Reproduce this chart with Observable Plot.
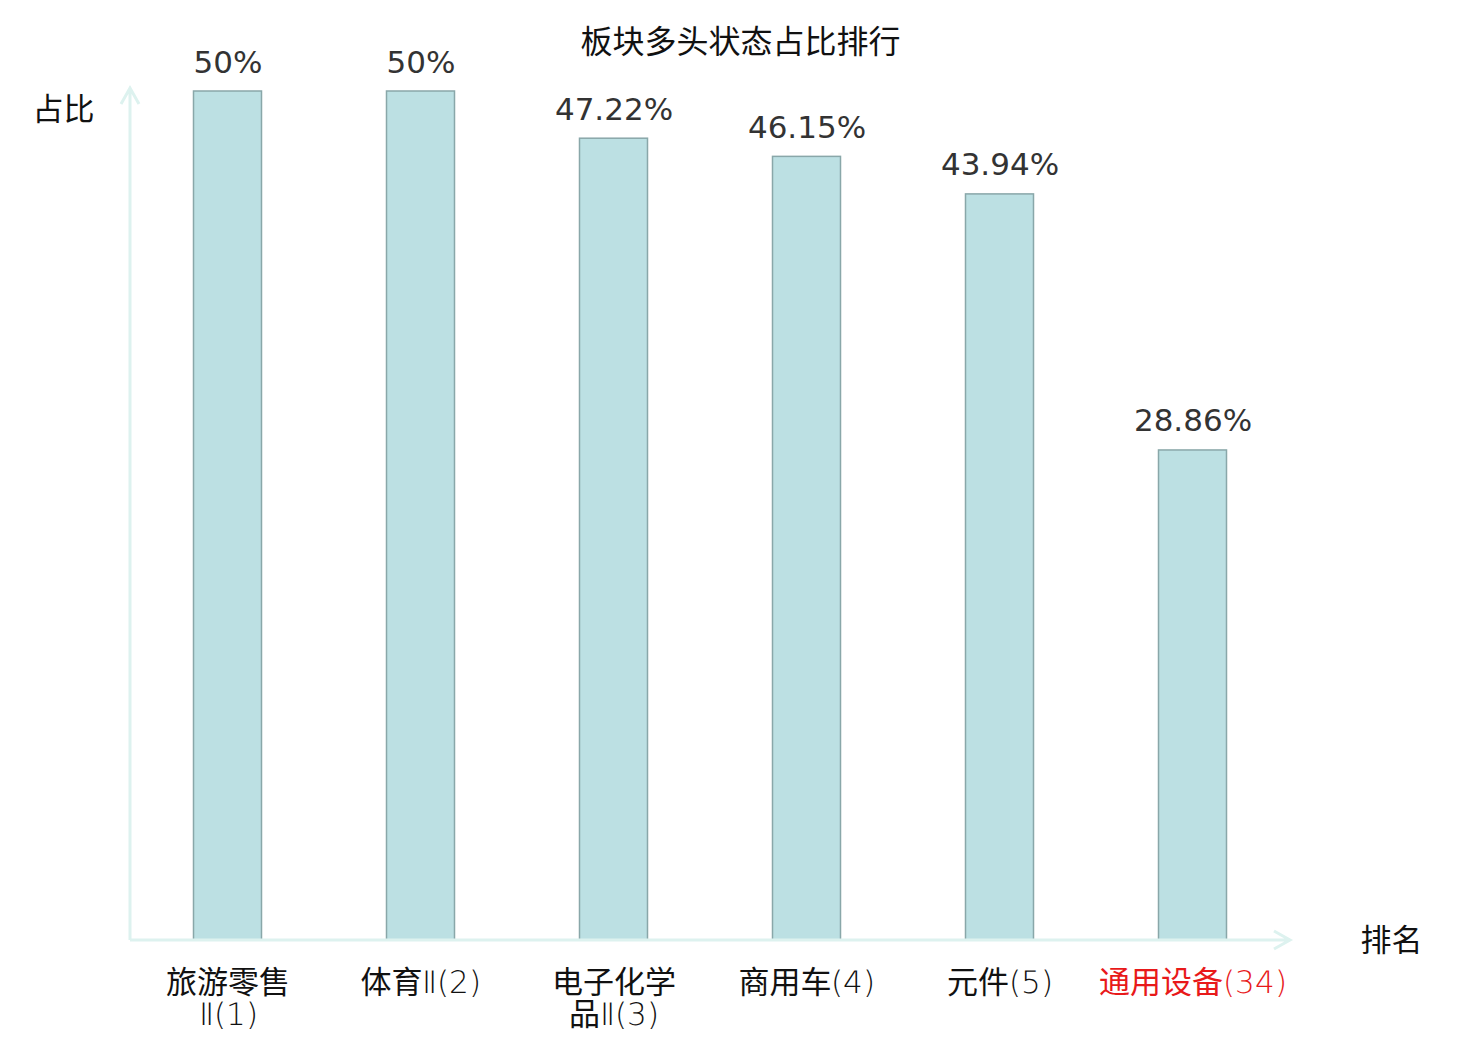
<!DOCTYPE html>
<html>
<head>
<meta charset="utf-8">
<script src="https://cdn.jsdelivr.net/npm/d3@7"></script>
<script src="https://cdn.jsdelivr.net/npm/@observablehq/plot@0.6"></script>
<style>
  html, body { margin: 0; padding: 0; background: #fff; }
  #chart svg { display: block; }
  @font-face {
    font-family: "TickLatin";
    src: local("DejaVu Sans ExtraLight"), local("DejaVuSans-ExtraLight");
    unicode-range: U+0000-00FF, U+2160-2188;
  }
</style>
</head>
<body>
<div id="chart"></div>
<script>
const categories = ["旅游零售\nⅡ(1)", "体育Ⅱ(2)", "电子化学\n品Ⅱ(3)", "商用车(4)", "元件(5)", "通用设备(34)"];
const values = [50, 50, 47.22, 46.15, 43.94, 28.86];
const valueLabels = ["50%", "50%", "47.22%", "46.15%", "43.94%", "28.86%"];
const highlighted = ["通用设备(34)"];
const title = "板块多头状态占比排行";
const yName = "占比";
const xName = "排名";

const data = categories.map((c, i) => ({ cat: c, value: values[i], label: valueLabels[i] }));
const FONT = "DejaVu Sans, 'Noto Sans CJK SC', sans-serif";
const CJK = "'Noto Sans CJK SC', sans-serif";
const TICKFONT = "TickLatin, 'Noto Sans CJK SC', sans-serif";
const AXIS_COLOR = "#ddf2ef";

function axesWithArrows(index, scales, values, dims) {
  const ns = "http://www.w3.org/2000/svg";
  const g = document.createElementNS(ns, "g");
  const x0 = dims.marginLeft, x1 = dims.width - dims.marginRight;
  const yb = dims.height - dims.marginBottom, yt = dims.marginTop - 3;
  const d = [
    `M${x0},${yb}L${x1},${yb}`,
    `M${x1 - 16},${yb - 9}L${x1},${yb}L${x1 - 16},${yb + 9}`,
    `M${x0},${yb}L${x0},${yt}`,
    `M${x0 - 9},${yt + 16}L${x0},${yt}L${x0 + 9},${yt + 16}`
  ].join("");
  const p = document.createElementNS(ns, "path");
  p.setAttribute("d", d);
  p.setAttribute("fill", "none");
  p.setAttribute("stroke", AXIS_COLOR);
  p.setAttribute("stroke-width", 3);
  g.appendChild(p);
  return g;
}

const chart = Plot.plot({
  width: 1480,
  height: 1040,
  marginLeft: 130,
  marginRight: 190,
  marginTop: 91,
  marginBottom: 100,
  style: { fontFamily: FONT, background: "#fff" },
  x: { domain: categories, padding: 0, axis: null },
  y: { domain: [0, 50], axis: null },
  marks: [
    Plot.barY(data, {
      x: "cat", y: "value",
      fill: "#bce0e3", stroke: "#89a7a9", strokeWidth: 1.5,
      insetLeft: 62.5, insetRight: 62.5
    }),
    axesWithArrows,
    Plot.text(data, {
      x: "cat", y: "value", text: "label",
      lineAnchor: "bottom", dy: -19,
      fontSize: 31, fill: "#333", fontFamily: FONT
    }),
    Plot.text(data, {
      x: "cat", text: "cat",
      frameAnchor: "bottom", lineAnchor: "top", dy: 30,
      lineHeight: 1.03,
      fontSize: 31, fontFamily: TICKFONT,
      fill: d => highlighted.includes(d.cat) ? "#e8191a" : "#111"
    }),
    Plot.text([title], {
      text: d => d, frameAnchor: "top", dx: 30, dy: -49,
      lineAnchor: "middle", fontSize: 32, fill: "#111", fontFamily: CJK
    }),
    Plot.text([yName], {
      text: d => d, frameAnchor: "top-left", textAnchor: "middle",
      dx: -67, dy: 19, lineAnchor: "middle", fontSize: 31, fill: "#111", fontFamily: CJK
    }),
    Plot.text([xName], {
      text: d => d, frameAnchor: "bottom-right", textAnchor: "middle",
      dx: 101, dy: 1, lineAnchor: "middle", fontSize: 31, fill: "#111", fontFamily: CJK
    })
  ]
});
document.getElementById("chart").appendChild(chart);
</script>
</body>
</html>
